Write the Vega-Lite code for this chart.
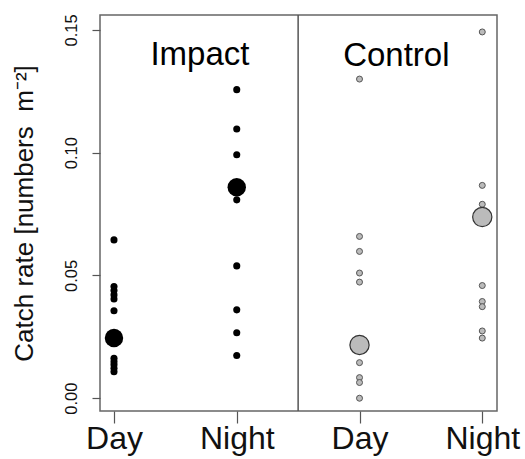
{
  "$schema": "https://vega.github.io/schema/vega-lite/v6.json",
  "autosize": {"type": "none"},
  "width": 397,
  "height": 396,
  "padding": {"left": 100, "top": 15, "right": 28, "bottom": 48},
  "background": "white",
  "config": {
    "font": "Liberation Sans",
    "view": {"stroke": "#666666", "strokeWidth": 1.5},
    "axis": {"grid": false, "domain": false, "tickColor": "#555555", "tickWidth": 1.2, "labelColor": "#111111", "titleColor": "#111111", "titleFontWeight": "normal"}
  },
  "datasets": {
    "pts": [
      {"grp": "Impact", "pos": 1, "kind": "obs", "rate": 0.0645},
      {"grp": "Impact", "pos": 1, "kind": "obs", "rate": 0.0455},
      {"grp": "Impact", "pos": 1, "kind": "obs", "rate": 0.0439},
      {"grp": "Impact", "pos": 1, "kind": "obs", "rate": 0.0421},
      {"grp": "Impact", "pos": 1, "kind": "obs", "rate": 0.0404},
      {"grp": "Impact", "pos": 1, "kind": "obs", "rate": 0.0356},
      {"grp": "Impact", "pos": 1, "kind": "obs", "rate": 0.0163},
      {"grp": "Impact", "pos": 1, "kind": "obs", "rate": 0.0149},
      {"grp": "Impact", "pos": 1, "kind": "obs", "rate": 0.0136},
      {"grp": "Impact", "pos": 1, "kind": "obs", "rate": 0.0122},
      {"grp": "Impact", "pos": 1, "kind": "obs", "rate": 0.0108},
      {"grp": "Impact", "pos": 2, "kind": "obs", "rate": 0.1257},
      {"grp": "Impact", "pos": 2, "kind": "obs", "rate": 0.1097},
      {"grp": "Impact", "pos": 2, "kind": "obs", "rate": 0.0992},
      {"grp": "Impact", "pos": 2, "kind": "obs", "rate": 0.0808},
      {"grp": "Impact", "pos": 2, "kind": "obs", "rate": 0.0539},
      {"grp": "Impact", "pos": 2, "kind": "obs", "rate": 0.0360},
      {"grp": "Impact", "pos": 2, "kind": "obs", "rate": 0.0267},
      {"grp": "Impact", "pos": 2, "kind": "obs", "rate": 0.0174},
      {"grp": "Control", "pos": 3, "kind": "obs", "rate": 0.1300},
      {"grp": "Control", "pos": 3, "kind": "obs", "rate": 0.0659},
      {"grp": "Control", "pos": 3, "kind": "obs", "rate": 0.0598},
      {"grp": "Control", "pos": 3, "kind": "obs", "rate": 0.0510},
      {"grp": "Control", "pos": 3, "kind": "obs", "rate": 0.0473},
      {"grp": "Control", "pos": 3, "kind": "obs", "rate": 0.0145},
      {"grp": "Control", "pos": 3, "kind": "obs", "rate": 0.0084},
      {"grp": "Control", "pos": 3, "kind": "obs", "rate": 0.0064},
      {"grp": "Control", "pos": 3, "kind": "obs", "rate": 0.0000},
      {"grp": "Control", "pos": 4, "kind": "obs", "rate": 0.1492},
      {"grp": "Control", "pos": 4, "kind": "obs", "rate": 0.0867},
      {"grp": "Control", "pos": 4, "kind": "obs", "rate": 0.0790},
      {"grp": "Control", "pos": 4, "kind": "obs", "rate": 0.0459},
      {"grp": "Control", "pos": 4, "kind": "obs", "rate": 0.0394},
      {"grp": "Control", "pos": 4, "kind": "obs", "rate": 0.0373},
      {"grp": "Control", "pos": 4, "kind": "obs", "rate": 0.0274},
      {"grp": "Control", "pos": 4, "kind": "obs", "rate": 0.0245},
      {"grp": "Impact", "pos": 1, "kind": "mean", "rate": 0.0245},
      {"grp": "Impact", "pos": 2, "kind": "mean", "rate": 0.0859},
      {"grp": "Control", "pos": 3, "kind": "mean", "rate": 0.0217},
      {"grp": "Control", "pos": 4, "kind": "mean", "rate": 0.0738}
    ],
    "labels": [
      {"label": "Impact", "pos": 1.70, "rate": 0.1359},
      {"label": "Control", "pos": 3.30, "rate": 0.1352}
    ],
    "divider": [{"pos": 2.5}]
  },
  "layer": [
    {
      "data": {"name": "divider"},
      "mark": {"type": "rule", "color": "#555555", "strokeWidth": 1.5},
      "encoding": {
        "x": {"field": "pos", "type": "quantitative", "scale": {"domain": [0.886, 4.12], "nice": false, "zero": false},
          "axis": {"values": [1, 2, 3, 4], "labelExpr": "datum.value == 1 || datum.value == 3 ? 'Day' : 'Night'", "title": null, "tickSize": 12, "labelFontSize": 32, "labelPadding": 0, "labelFlush": false, "labelOverlap": false}}
      }
    },
    {
      "data": {"name": "pts"},
      "transform": [{"filter": "datum.grp == 'Impact' && datum.kind == 'obs'"}],
      "mark": {"type": "circle", "size": 50, "color": "black", "opacity": 1},
      "encoding": {
        "x": {"field": "pos", "type": "quantitative"},
        "y": {"field": "rate", "type": "quantitative", "scale": {"domain": [-0.0052, 0.1561], "nice": false, "zero": false},
          "axis": {"values": [0, 0.05, 0.1, 0.15], "format": ".2f", "labelAngle": -90, "labelAlign": "center", "labelBaseline": "bottom", "labelFontSize": 16.5, "labelPadding": 13, "tickSize": 8,
            "title": "Catch rate [numbers\u00a0\u00a0m⁻²]", "titleFontSize": 26, "titlePadding": 26}}
      }
    },
    {
      "data": {"name": "pts"},
      "transform": [{"filter": "datum.grp == 'Control' && datum.kind == 'obs'"}],
      "mark": {"type": "point", "shape": "circle", "size": 36, "filled": true, "fill": "#bbbbbb", "stroke": "#555555", "strokeWidth": 1, "opacity": 1},
      "encoding": {
        "x": {"field": "pos", "type": "quantitative"},
        "y": {"field": "rate", "type": "quantitative"}
      }
    },
    {
      "data": {"name": "pts"},
      "transform": [{"filter": "datum.grp == 'Impact' && datum.kind == 'mean'"}],
      "mark": {"type": "circle", "size": 340, "color": "black", "opacity": 1},
      "encoding": {
        "x": {"field": "pos", "type": "quantitative"},
        "y": {"field": "rate", "type": "quantitative"}
      }
    },
    {
      "data": {"name": "pts"},
      "transform": [{"filter": "datum.grp == 'Control' && datum.kind == 'mean'"}],
      "mark": {"type": "point", "shape": "circle", "size": 370, "filled": true, "fill": "#bbbbbb", "stroke": "#333333", "strokeWidth": 1.2, "opacity": 1},
      "encoding": {
        "x": {"field": "pos", "type": "quantitative"},
        "y": {"field": "rate", "type": "quantitative"}
      }
    },
    {
      "data": {"name": "labels"},
      "mark": {"type": "text", "fontSize": 33, "align": "center", "baseline": "alphabetic", "color": "black"},
      "encoding": {
        "x": {"field": "pos", "type": "quantitative"},
        "y": {"field": "rate", "type": "quantitative"},
        "text": {"field": "label"}
      }
    }
  ]
}
